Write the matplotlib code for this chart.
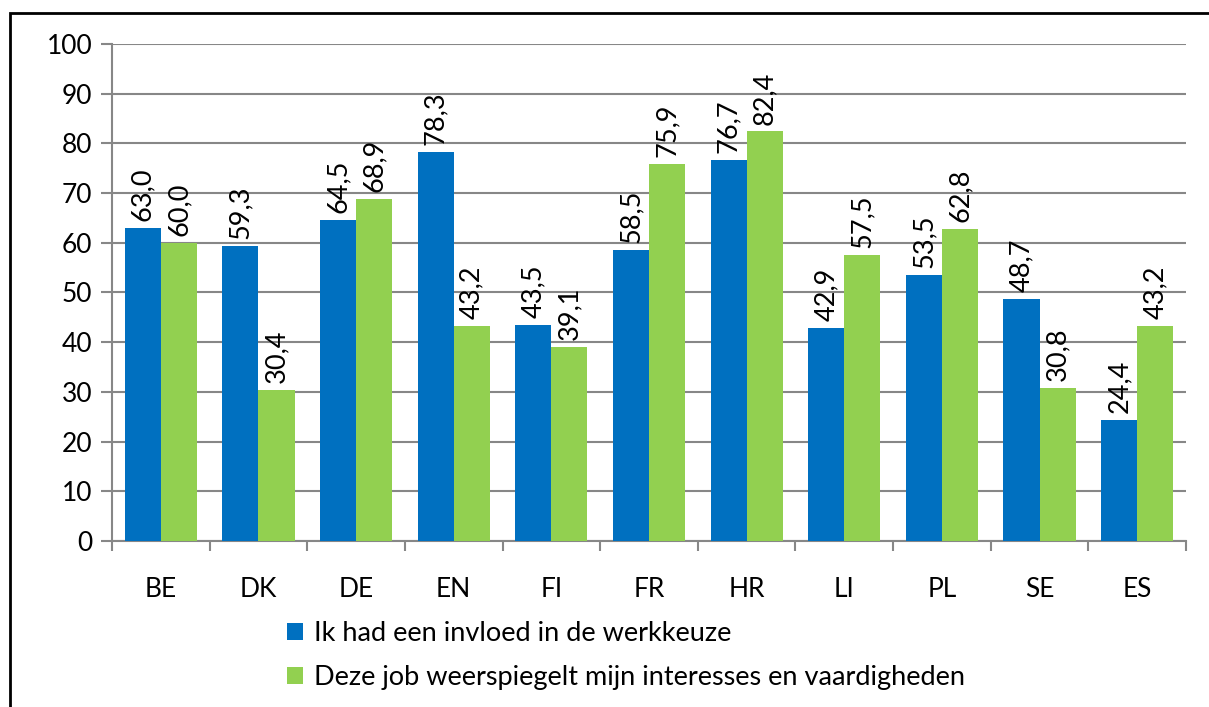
import numpy as np
import matplotlib.pyplot as plt
from matplotlib.patches import Rectangle

plt.rcParams['font.family'] = ['Lato', 'Open Sans', 'DejaVu Sans']

# Data
landen = ["BE", "DK", "DE", "EN", "FI", "FR", "HR", "LI", "PL", "SE", "ES"]
invloed = [63.0, 59.3, 64.5, 78.3, 43.5, 58.5, 76.7, 42.9, 53.5, 48.7, 24.4]
interesses = [60.0, 30.4, 68.9, 43.2, 39.1, 75.9, 82.4, 57.5, 62.8, 30.8, 43.2]
reeks_namen = ["Ik had een invloed in de werkkeuze",
               "Deze job weerspiegelt mijn interesses en vaardigheden"]

BLAUW = "#0070C0"
GROEN = "#92D050"
GRIJS = "#878787"

fig = plt.figure(figsize=(12.09, 7.07), dpi=100)
ax = fig.add_axes([0.0926, 0.2348, 0.8884, 0.703])

x = np.arange(len(landen))
w = 0.37
b1 = ax.bar(x - w/2, invloed, w, color=BLAUW, label=reeks_namen[0], zorder=3)
b2 = ax.bar(x + w/2, interesses, w, color=GROEN, label=reeks_namen[1], zorder=3)

def fmt(v):
    return f"{v:.1f}".replace(".", ",")

for bars, vals in ((b1, invloed), (b2, interesses)):
    for r, v in zip(bars, vals):
        ax.annotate(fmt(v), (r.get_x() + r.get_width()/2, v), xytext=(0, 5),
                    textcoords="offset points", rotation=90, ha="center",
                    va="bottom", fontsize=19.5)

ax.set_xlim(-0.5, len(landen) - 0.5)
ax.set_ylim(0, 100)
ax.set_yticks(range(0, 101, 10))
ax.yaxis.grid(True, color=GRIJS, linewidth=1.5, zorder=0)
ax.set_axisbelow(True)
ax.set_xticks(x)
ax.set_xticklabels(landen)
ax.set_xticks(np.arange(-0.5, len(landen), 1), minor=True)
ax.tick_params(axis="x", which="major", length=0, labelsize=19, pad=26)
ax.tick_params(axis="x", which="minor", length=7, width=1.5, color=GRIJS)
ax.tick_params(axis="y", length=8, width=1.5, color=GRIJS, labelsize=19, pad=6)
for s in ("top", "right"):
    ax.spines[s].set_visible(False)
for s in ("left", "bottom"):
    ax.spines[s].set_color(GRIJS)
    ax.spines[s].set_linewidth(1.5)

fig.legend(handles=[b1, b2], loc="upper left", bbox_to_anchor=(0.237, 0.122),
           bbox_transform=fig.transFigure, frameon=False, fontsize=19.5,
           handlelength=0.6, handleheight=0.6, handletextpad=0.4, labelspacing=0.7,
           borderaxespad=0, borderpad=0)

fig.patches.append(Rectangle((10/1209, -0.05), 1.2, 1 - 13/707 + 0.05,
                             transform=fig.transFigure, fill=False,
                             edgecolor="black", linewidth=2))

fig.savefig("out.png", dpi=100)
